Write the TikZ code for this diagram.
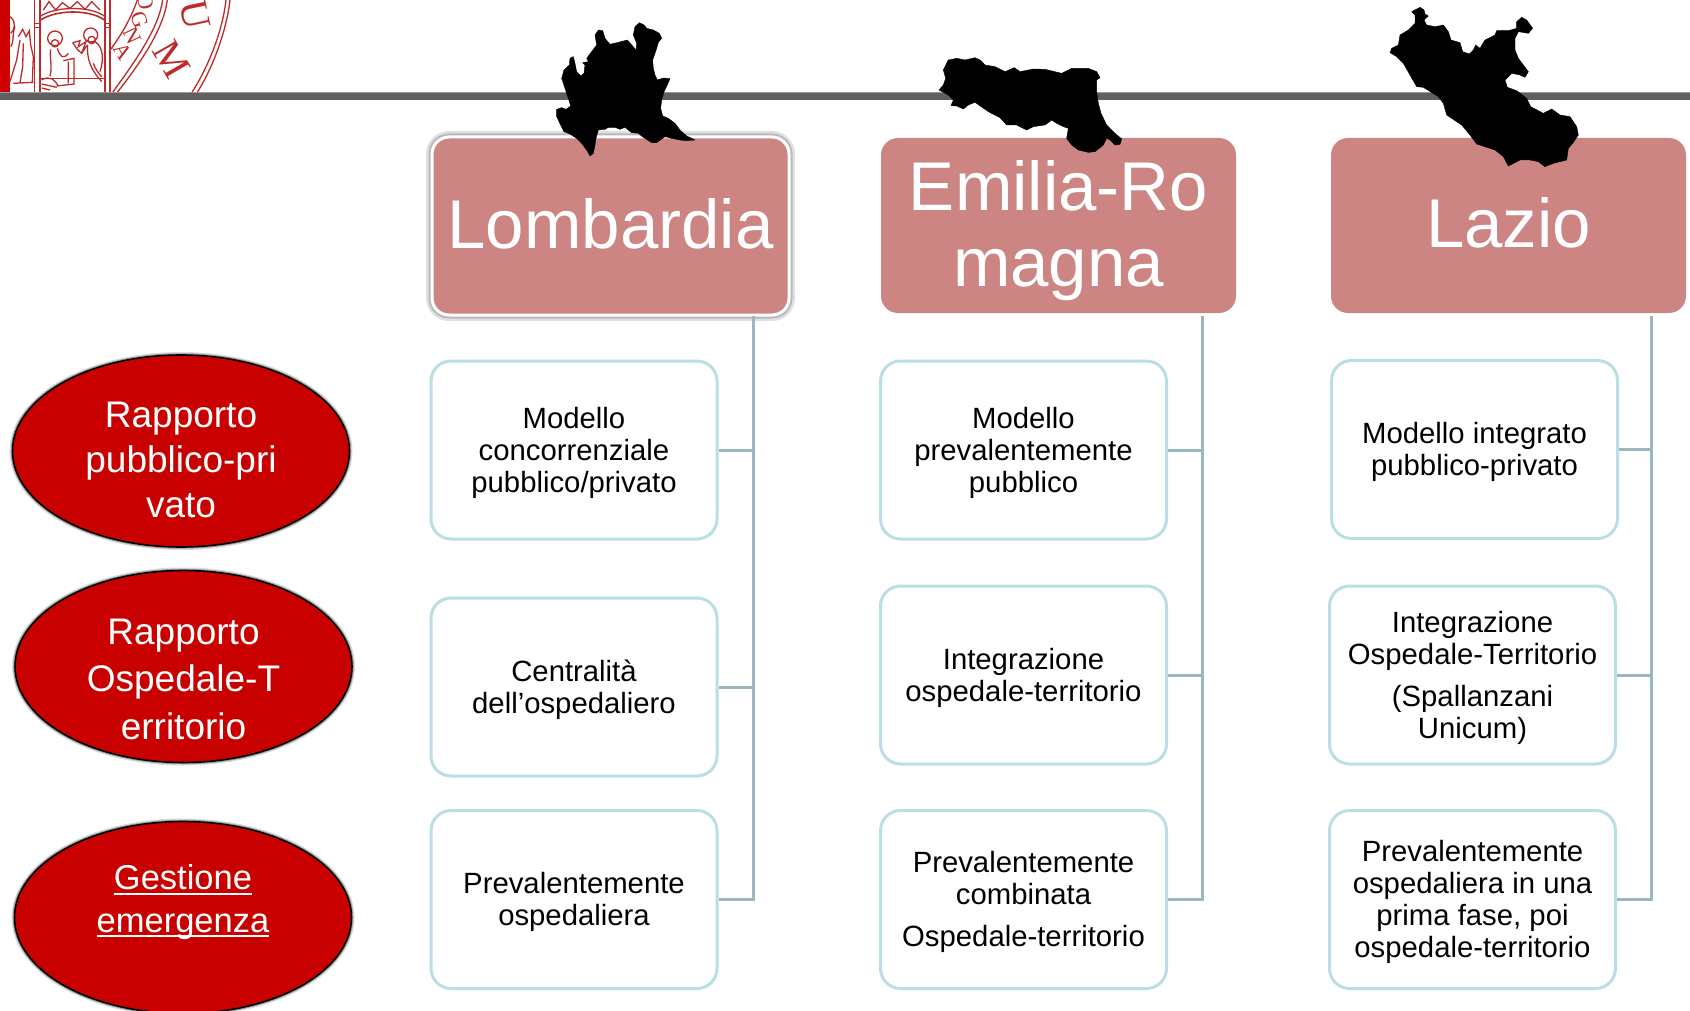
\documentclass[tikz,border=0pt]{standalone}
\usepackage{fontspec}
\setmainfont{Liberation Sans}
\newfontfamily\sealfont{Liberation Serif}
\usetikzlibrary{shapes.geometric}
\definecolor{headrose}{HTML}{CD8583}
\definecolor{ovalred}{HTML}{C80000}
\definecolor{boxline}{HTML}{B9DFE3}
\definecolor{trunkline}{HTML}{9AB8BC}
\definecolor{barGray}{HTML}{606060}
\definecolor{sealred}{HTML}{BE2A2A}
\newcommand\ulword[1]{\setbox0\hbox{#1}\rlap{\rule[-5pt]{\wd0}{1.8pt}}\box0}
\newcommand\topgap[1]{\rule{0pt}{#1}}
\newcommand\lowgap[1]{\rule[-#1]{0pt}{0pt}}
\newcommand\itemgap{\topgap{26.5pt}}
\tikzset{
	headbox/.style={rectangle, rounded corners=17pt, fill=headrose, text=white, align=center,
		minimum width=355pt, minimum height=175pt, inner sep=0pt, font=\fontsize{69}{76}\selectfont},
	ovalbox/.style={ellipse, draw=black, line width=1.6pt, fill=ovalred, text=white, align=center,
		minimum width=337pt, minimum height=192pt, inner sep=-35pt,
		preaction={draw=black, opacity=.14, line width=6pt},
		preaction={draw=black, opacity=.3, line width=3.5pt}},
	itembox/.style={rectangle, rounded corners=20pt, draw=boxline, line width=3pt, fill=white, align=center,
		minimum width=286pt, minimum height=178pt, inner sep=0pt, font=\fontsize{29.3}{32}\selectfont},
	link/.style={draw=trunkline, line width=3pt},
	region/.style={fill=black, draw=black, line width=.4pt, line join=round},
	seal/.style={draw=sealred, line width=1.3pt},
	sealtext/.style={text=sealred, inner sep=0pt, font=\sealfont\fontsize{22}{22}\selectfont},
}
\begin{document}
\begin{tikzpicture}[x=1pt, y=-1pt]
	\useasboundingbox (0,0) rectangle (1690,1011);
	% seal
	\begin{scope}
		\clip (0,0) rectangle (1690,92);
		\begin{scope}[scale=1/3]
			\fill[ovalred!90!red] (0,0) rectangle (30,276);
			\draw[seal] (104,0)--(104,277) (120,0)--(120,277) (315,0)--(315,277) (330,0)--(330,277);
			\draw[seal, line width=1.6pt] (103,70) rectangle (121,82) (314,70) rectangle (331,82);
			\draw[seal, line width=1.6pt] (122,60) .. controls (170,28) and (270,28) .. (313,60);
			\draw[seal] (122,48) .. controls (170,18) and (270,18) .. (313,48);
			\draw[seal] (130,30)--(147,5)--(167,30)--(187,8)--(210,25)--(232,5)--(255,28)--(275,5)--(300,30);
			\draw[seal] (122,235)--(313,235);
			% figures
			\draw[seal] (165,115) circle (22) (165,130) circle (11) (272,105) circle (21) (275,120) circle (11);
			\draw[seal] (152,148) .. controls (148,175) and (158,200) .. (150,228) (172,145) .. controls (180,170) and (190,180) .. (205,160)
				(190,182)--(222,175)--(222,252)--(170,258) (205,185)--(205,250) (125,240) .. controls (150,225) and (165,240) .. (175,258) (125,252)--(170,262) (125,264)--(150,270);
			\draw[seal] (262,135) .. controls (262,180) and (270,205) .. (305,245) (285,125) .. controls (310,140) and (312,180) .. (300,215) (280,190) .. controls (285,205) and (295,220) .. (305,230);
			\draw[seal] (218,128)--(240,122)--(235,140)--(258,125)--(245,160)--(232,148)--(218,128) (245,160)--(262,135);
			\draw[seal] (32,140) .. controls (45,120) and (35,100) .. (45,80) (55,110)--(68,88)--(78,110)--(88,92)--(92,135)--(100,170)--(97,245) (60,120)--(50,180)--(30,245) (70,130)--(68,200)--(60,248) (40,250)--(100,247) (30,50) .. controls (50,65) and (45,90) .. (32,100);
			% rings
			\draw[seal] (412,0) .. controls (395,50) and (365,105) .. (330,150) (502,0) .. controls (490,90) and (420,190) .. (352,277) (488,0) .. controls (476,85) and (408,180) .. (338,277) (690,0) .. controls (680,90) and (640,200) .. (592,277) (678,0) .. controls (668,90) and (628,195) .. (576,277);
			\foreach \ch/\px/\py/\ang in {O/436/5/-78,G/418/60/-72,N/396/108/-65,A/370/155/-58}
				\node[sealtext, rotate=\ang, name=seal\ch] at (\px,\py) {\ch};
			\node[sealtext, rotate=-78, font=\sealfont\fontsize{40}{40}\selectfont] (sealU) at (585,45) {U};
			\node[sealtext, rotate=-60, font=\sealfont\fontsize{40}{40}\selectfont] (sealM) at (515,178) {M};
		\end{scope}
	\end{scope}
	% bar
	\fill[barGray] (0,92.5) rectangle (1690,100.5);
	\draw[black!40, line width=1pt] (0,92.5)--(1690,92.5);
	% heads
	\node[headbox, minimum width=357pt, minimum height=178pt, line width=3pt, draw=white,
		preaction={draw=black, opacity=.12, line width=12pt},
		preaction={draw=black, opacity=.18, line width=7pt}] (headA) at (610.5,226) {Lombardia\lowgap{5pt}};
	\node[headbox] (headB) at (1058.5,225.5) {\topgap{60pt}Emilia-Ro\\magna};
	\node[headbox] (headC) at (1508.5,225.5) {Lazio\lowgap{5pt}};
	% ovals
	\node[ovalbox, font=\fontsize{37}{45}\selectfont] (ovalA) at (181,451) {\topgap{43pt}Rapporto\\pubblico-pri\\vato};
	\node[ovalbox, font=\fontsize{37}{47.5}\selectfont] (ovalB) at (183.5,666.5) {\topgap{51pt}Rapporto\\Ospedale-T\\erritorio};
	\node[ovalbox, font=\fontsize{34.5}{42.5}\selectfont] (ovalC) at (183,917.5) {\ulword{Gestione}\\\ulword{emergenza}\lowgap{38pt}};
	% boxes
	\node[itembox] (boxA1) at (574,450) {\itemgap Modello\\concorrenziale\\pubblico/privato};
	\node[itembox] (boxA2) at (574,687) {\itemgap Centralità\\dell’ospedaliero};
	\node[itembox] (boxA3) at (574,899.5) {\itemgap Prevalentemente\\ospedaliera};
	\node[itembox] (boxB1) at (1023.5,450) {\itemgap Modello\\prevalentemente\\pubblico};
	\node[itembox] (boxB2) at (1023.5,675) {\itemgap Integrazione\\ospedale-territorio};
	\node[itembox] (boxB3) at (1023.5,899.5) {\itemgap Prevalentemente\\combinata\\[10pt]Ospedale-territorio};
	\node[itembox] (boxC1) at (1474.5,449.5) {\itemgap Modello integrato\\pubblico-privato};
	\node[itembox] (boxC2) at (1472.5,675) {\itemgap Integrazione\\Ospedale-Territorio\\[10pt](Spallanzani\\Unicum)};
	\node[itembox] (boxC3) at (1472.5,899.5) {\itemgap Prevalentemente\\ospedaliera in una\\prima fase, poi\\ospedale-territorio};
	% connectors
	\coordinate (trunkA) at (753,316);
	\coordinate (trunkB) at (1202.5,316);
	\coordinate (trunkC) at (1651,316);
	\foreach \col in {A,B,C}{
		\draw[link] (trunk\col) |- (box\col3.east);
		\draw[link] (box\col1.east) -- (box\col1.east -| trunk\col);
		\draw[link] (box\col2.east) -- (box\col2.east -| trunk\col);
	}
	% regions
	\begin{scope}[shift={(540,10)}, scale=1/3]
		\fill[region] (298,38)--(312,45)--(320,55)--(340,60)--(358,70)--(365,85)--(355,97)--(350,115)--(345,130)--(338,150)--(340,175)--(345,195)--(352,210)--(370,204)--(390,206)--(382,225)--(372,245)--(365,270)--(362,295)--(368,318)--(385,325)--(405,340)--(420,360)--(440,378)--(465,390)--(440,392)--(420,390)--(395,385)--(375,380)--(350,398)--(335,398)--(310,382)--(295,370)--(275,368)--(255,352)--(240,358)--(225,352)--(205,352)--(195,358)--(175,360)--(168,385)--(165,405)--(160,430)--(150,438)--(140,420)--(125,400)--(110,385)--(90,372)--(72,365)--(62,345)--(50,320)--(50,298)--(65,293)--(78,298)--(92,288)--(85,265)--(75,235)--(65,205)--(72,180)--(88,165)--(90,145)--(100,140)--(105,160)--(110,185)--(122,198)--(132,190)--(135,165)--(128,158)--(145,155)--(140,145)--(155,125)--(170,105)--(165,75)--(175,60)--(188,62)--(195,85)--(210,103)--(235,97)--(262,90)--(275,105)--(288,120)--(290,100)--(280,75)--(285,50)--cycle;
	\end{scope}
	\begin{scope}[shift={(925,45)}, scale=1/3]
		\fill[region] (70,45)--(95,40)--(120,45)--(150,38)--(165,45)--(180,60)--(210,65)--(240,80)--(268,68)--(285,80)--(325,72)--(360,73)--(410,85)--(440,70)--(490,70)--(515,80)--(525,98)--(515,105)--(515,140)--(520,175)--(528,205)--(545,240)--(570,265)--(590,282)--(585,298)--(570,300)--(555,285)--(545,280)--(535,300)--(510,320)--(490,322)--(460,315)--(440,300)--(425,280)--(430,250)--(415,245)--(395,235)--(380,225)--(360,240)--(325,245)--(305,255)--(275,240)--(245,240)--(225,218)--(190,200)--(150,172)--(130,180)--(115,192)--(95,183)--(78,182)--(85,165)--(70,150)--(42,135)--(55,120)--(62,100)--(55,75)--cycle;
	\end{scope}
	\begin{scope}[shift={(1380,0)}, scale=1/3]
		\fill[region] (120,22)--(132,30)--(135,42)--(145,48)--(132,60)--(140,75)--(165,80)--(190,75)--(205,95)--(213,120)--(240,128)--(248,155)--(268,162)--(280,150)--(287,135)--(300,145)--(315,120)--(345,105)--(350,92)--(385,92)--(410,85)--(410,65)--(425,52)--(440,60)--(458,85)--(445,100)--(415,95)--(405,115)--(405,150)--(415,175)--(430,195)--(445,215)--(435,232)--(420,225)--(395,220)--(375,240)--(382,262)--(410,272)--(440,295)--(452,320)--(490,340)--(515,327)--(540,345)--(570,350)--(590,380)--(595,405)--(578,430)--(565,445)--(560,480)--(520,490)--(495,500)--(475,485)--(450,480)--(420,480)--(385,498)--(370,470)--(345,450)--(290,432)--(270,405)--(245,375)--(200,345)--(190,310)--(175,290)--(130,262)--(110,260)--(90,225)--(70,190)--(50,170)--(30,158)--(35,145)--(55,135)--(60,105)--(85,90)--(105,70)--(105,45)--(95,35)--cycle;
	\end{scope}
\end{tikzpicture}
\end{document}
